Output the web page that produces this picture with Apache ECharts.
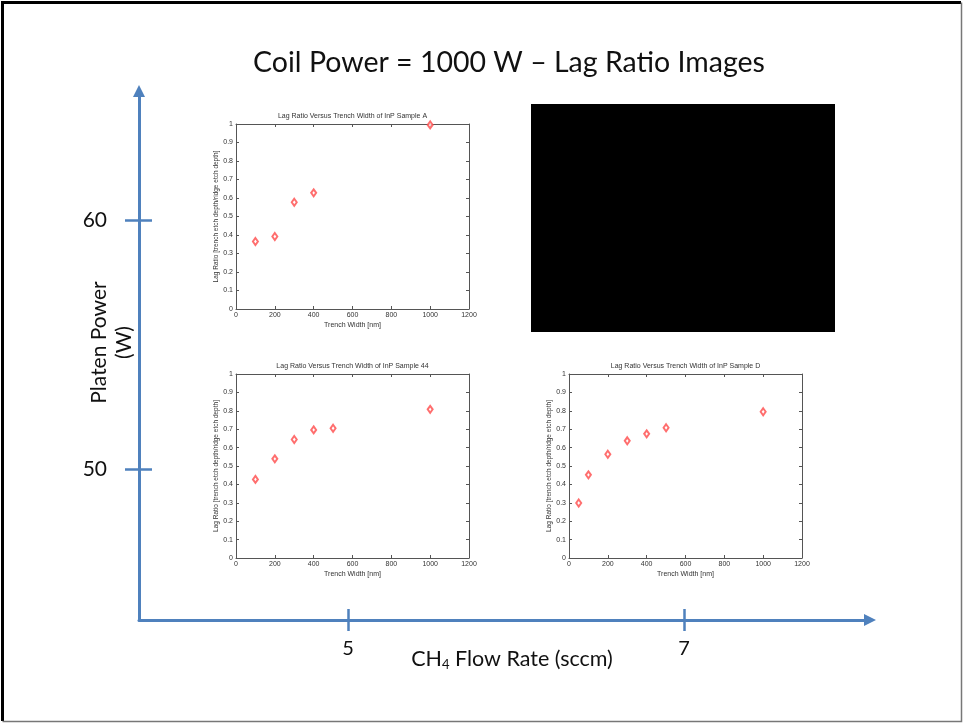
<!DOCTYPE html>
<html>
<head>
<meta charset="utf-8">
<script src="https://cdn.jsdelivr.net/npm/echarts@6/dist/echarts.min.js"></script>
<style>html,body{margin:0;padding:0;background:#fff;}#c{width:963px;height:724px;}</style>
</head>
<body>
<div id="c"></div>
<script>
// ---- data ----
const mainTitle = 'Coil Power = 1000 W \u2013 Lag Ratio Images';
const flowTicks = [5, 7];            // CH4 flow rate (sccm)
const platenTicks = [50, 60];        // platen power (W)
const sampleTitles = [
  'Lag Ratio Versus Trench Width of InP Sample A',
  'Lag Ratio Versus Trench Width of InP Sample 44',
  'Lag Ratio Versus Trench Width of InP Sample D'
];
const widthA = [100, 200, 300, 400, 1000];
const ratioA = [0.365, 0.392, 0.577, 0.628, 0.995];
const width44 = [100, 200, 300, 400, 500, 1000];
const ratio44 = [0.427, 0.539, 0.644, 0.696, 0.705, 0.808];
const widthD = [50, 100, 200, 300, 400, 500, 1000];
const ratioD = [0.299, 0.452, 0.564, 0.637, 0.675, 0.708, 0.795];

// ---- layout ----
const blue = '#4F81BD';
const big = {left: 139, top: 91, width: 870 - 139, height: 620 - 91};
const bigX = {min: 5 - (348 - 139) / 168, max: 7 + (870 - 684) / 168};
const bigY = {min: 50 - (620 - 469) / 24.9, max: 60 + (220 - 91) / 24.9};
const smallRects = [
  {left: 236, top: 124, width: 233, height: 185},
  {left: 236, top: 374, width: 233, height: 184},
  {left: 569, top: 374, width: 233, height: 184}
];
const samples = [[widthA, ratioA], [width44, ratio44], [widthD, ratioD]];

const bigFont = 'Lato, "Open Sans", sans-serif';
const smallFont = '"Liberation Sans", Arial, sans-serif';

const grids = [
  Object.assign({}, big),
  Object.assign({}, big)
];
const xAxes = [
  {
    type: 'value', gridIndex: 0, min: bigX.min, max: bigX.max, position: 'bottom',
    axisLine: {show: true, onZero: false, symbol: ['none', 'triangle'], symbolSize: [12, 12],
      lineStyle: {color: blue, width: 3}},
    axisTick: {show: true, customValues: flowTicks, length: 11, lineStyle: {color: blue, width: 2.5}},
    axisLabel: {show: true, customValues: flowTicks, margin: 19, fontSize: 20, color: '#111', fontFamily: bigFont},
    splitLine: {show: false},
    name: '{a|CH}{s|4}{a| Flow Rate (sccm)}', nameLocation: 'middle', nameGap: 28, nameMoveOverlap: false,
    nameTextStyle: {padding: [0, 0, 0, 15], rich: {
      a: {fontSize: 21.5, color: '#111', fontFamily: bigFont},
      s: {fontSize: 13, color: '#111', fontFamily: bigFont, verticalAlign: 'bottom', padding: [10, 0, 0, 0]}
    }}
  },
  {
    type: 'value', gridIndex: 1, min: bigX.min, max: bigX.max, position: 'bottom',
    axisLine: {show: false, onZero: false},
    axisTick: {show: true, inside: true, customValues: flowTicks, length: 11, lineStyle: {color: blue, width: 2.5}},
    axisLabel: {show: false}, splitLine: {show: false}
  }
];
const yAxes = [
  {
    type: 'value', gridIndex: 0, min: bigY.min, max: bigY.max, position: 'left',
    axisLine: {show: true, onZero: false, symbol: ['none', 'triangle'], symbolSize: [12, 12],
      lineStyle: {color: blue, width: 3}},
    axisTick: {show: true, customValues: platenTicks, length: 14, lineStyle: {color: blue, width: 2.5}},
    axisLabel: {show: true, customValues: platenTicks, margin: 32, fontSize: 21, color: '#111', fontFamily: bigFont},
    splitLine: {show: false},
    name: 'Platen Power\n(W)', nameLocation: 'middle', nameRotate: 90, nameGap: 2, nameMoveOverlap: false,
    nameTextStyle: {fontSize: 21, color: '#111', fontFamily: bigFont, lineHeight: 25, padding: [0, 0, 0, 26]}
  },
  {
    type: 'value', gridIndex: 1, min: bigY.min, max: bigY.max, position: 'left',
    axisLine: {show: false, onZero: false},
    axisTick: {show: true, inside: true, customValues: platenTicks, length: 13, lineStyle: {color: blue, width: 2.5}},
    axisLabel: {show: false}, splitLine: {show: false}
  }
];
const series = [];
const frame = '#555';
const plainNum = v => String(v);
smallRects.forEach((r, i) => {
  const gi = grids.length;
  grids.push(Object.assign({}, r));
  const xb = xAxes.length;
  xAxes.push({
    type: 'value', gridIndex: gi, min: 0, max: 1200, interval: 200, position: 'bottom',
    axisLine: {show: true, onZero: false, lineStyle: {color: frame, width: 1}},
    axisTick: {show: true, inside: true, length: 3, lineStyle: {color: frame}},
    axisLabel: {show: true, margin: 3, fontSize: 7, color: '#333', fontFamily: smallFont, formatter: plainNum},
    splitLine: {show: false},
    name: 'Trench Width [nm]', nameLocation: 'middle', nameGap: 13, nameMoveOverlap: false,
    nameTextStyle: {fontSize: 7, color: '#333', fontFamily: smallFont}
  });
  xAxes.push({
    type: 'value', gridIndex: gi, min: 0, max: 1200, interval: 200, position: 'top',
    axisLine: {show: true, onZero: false, lineStyle: {color: frame, width: 1}},
    axisTick: {show: true, inside: true, length: 3, lineStyle: {color: frame}},
    axisLabel: {show: false}, splitLine: {show: false},
    name: sampleTitles[i], nameLocation: 'middle', nameGap: 4, nameMoveOverlap: false,
    nameTextStyle: {fontSize: 7, color: '#333', fontFamily: smallFont}
  });
  const yl = yAxes.length;
  yAxes.push({
    type: 'value', gridIndex: gi, min: 0, max: 1, interval: 0.1, position: 'left',
    axisLine: {show: true, onZero: false, lineStyle: {color: frame, width: 1}},
    axisTick: {show: true, inside: true, length: 3, lineStyle: {color: frame}},
    axisLabel: {show: true, margin: 3, fontSize: 7, color: '#333', fontFamily: smallFont, formatter: plainNum},
    splitLine: {show: false},
    name: 'Lag Ratio [trench etch depth/ridge etch depth]', nameLocation: 'middle', nameRotate: 90, nameGap: 16, nameMoveOverlap: false,
    nameTextStyle: {fontSize: 6.5, color: '#333', fontFamily: smallFont}
  });
  yAxes.push({
    type: 'value', gridIndex: gi, min: 0, max: 1, interval: 0.1, position: 'right',
    axisLine: {show: true, onZero: false, lineStyle: {color: frame, width: 1}},
    axisTick: {show: true, inside: true, length: 3, lineStyle: {color: frame}},
    axisLabel: {show: false}, splitLine: {show: false}
  });
  const [xs, ys] = samples[i];
  series.push({
    type: 'scatter', xAxisIndex: xb, yAxisIndex: yl,
    data: xs.map((x, k) => [x, ys[k]]),
    symbol: 'emptyDiamond', symbolSize: [5, 7],
    itemStyle: {color: '#ff4a4a', borderWidth: 0.9},
    silent: true, animation: false
  });
});

const chart = echarts.init(document.getElementById('c'), null, {renderer: 'canvas'});
chart.setOption({
  animation: false,
  backgroundColor: '#fff',
  title: {
    text: mainTitle, left: 504, top: 43, textAlign: 'center',
    textStyle: {fontSize: 28.5, fontWeight: 'normal', color: '#111', fontFamily: bigFont}
  },
  grid: grids,
  xAxis: xAxes,
  yAxis: yAxes,
  series: series,
  graphic: [
    {type: 'rect', shape: {x: 531, y: 104, width: 304, height: 228}, style: {fill: '#000'}, silent: true},
    {type: 'polyline', shape: {points: [[2.5, 721], [2.5, 2.5], [961, 2.5]]}, style: {stroke: '#000', lineWidth: 3, fill: null}, silent: true},
    {type: 'polyline', shape: {points: [[961.5, 2.5], [961.5, 721.5], [2.5, 721.5]]}, style: {stroke: '#777', lineWidth: 1.5, fill: null}, silent: true}
  ]
});
</script>
</body>
</html>
